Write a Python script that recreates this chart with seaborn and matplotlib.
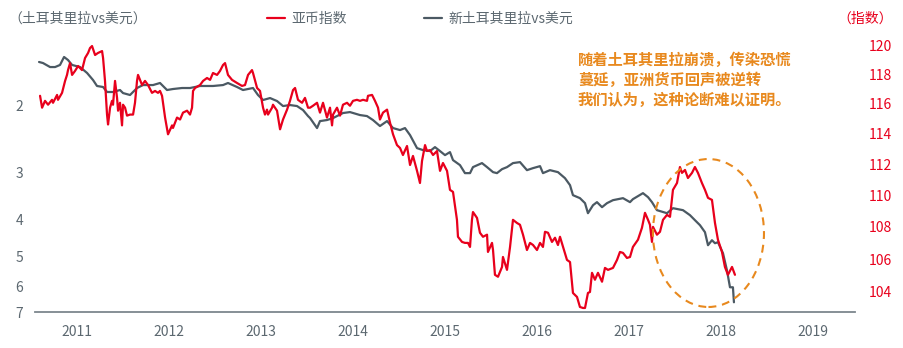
import matplotlib
matplotlib.use("Agg")
import matplotlib.pyplot as plt
import matplotlib.ticker as mticker
from matplotlib.patches import Ellipse
from matplotlib.lines import Line2D
import seaborn as sns
import pandas as pd

# ---------------- data ----------------
lira_t = [2011.087, 2011.130, 2011.207, 2011.261, 2011.315, 2011.359, 2011.402, 2011.446, 2011.533, 2011.609,
          2011.674, 2011.717, 2011.783, 2011.826, 2011.891, 2011.967, 2012.000, 2012.076, 2012.152, 2012.217,
          2012.326, 2012.402, 2012.478, 2012.543, 2012.641, 2012.728, 2012.837, 2012.978, 2013.087, 2013.141,
          2013.239, 2013.304, 2013.413, 2013.467, 2013.522, 2013.598, 2013.674, 2013.739, 2013.815, 2013.891,
          2013.957, 2014.011, 2014.033, 2014.109, 2014.141, 2014.217, 2014.283, 2014.391, 2014.467, 2014.576,
          2014.652, 2014.717, 2014.793, 2014.870, 2014.935, 2015.011, 2015.065, 2015.120, 2015.196, 2015.261,
          2015.337, 2015.391, 2015.446, 2015.500, 2015.554, 2015.587, 2015.663, 2015.717, 2015.772, 2015.804,
          2015.902, 2015.957, 2016.022, 2016.065, 2016.120, 2016.174, 2016.239, 2016.315, 2016.391, 2016.457,
          2016.533, 2016.565, 2016.641, 2016.728, 2016.804, 2016.859, 2016.891, 2016.967, 2017.022, 2017.054,
          2017.109, 2017.152, 2017.207, 2017.261, 2017.326, 2017.435, 2017.511, 2017.543, 2017.652, 2017.707,
          2017.750, 2017.804, 2017.913, 2017.978, 2018.087, 2018.163, 2018.217, 2018.272, 2018.326, 2018.359,
          2018.402, 2018.435, 2018.467, 2018.522, 2018.565, 2018.598, 2018.630, 2018.641]
lira = [1.541, 1.551, 1.589, 1.589, 1.569, 1.495, 1.523, 1.569, 1.589, 1.647,
        1.719, 1.782, 1.793, 1.848, 1.848, 1.826, 1.860, 1.882, 1.804, 1.772,
        1.772, 1.750, 1.826, 1.815, 1.804, 1.804, 1.782, 1.782, 1.772, 1.750,
        1.793, 1.826, 1.804, 1.882, 1.940, 1.917, 1.952, 2.012, 2.000, 2.012,
        2.062, 2.138, 2.164, 2.299, 2.204, 2.190, 2.164, 2.099, 2.087, 2.125,
        2.138, 2.190, 2.271, 2.204, 2.299, 2.327, 2.299, 2.399, 2.596, 2.627,
        2.643, 2.580, 2.643, 2.708, 2.659, 2.791, 2.877, 3.020, 3.020, 2.912,
        2.842, 2.912, 3.002, 3.020, 2.948, 2.912, 2.842, 2.825, 2.966, 2.930,
        2.895, 3.020, 2.966, 3.002, 3.113, 3.248, 3.451, 3.514, 3.622, 3.849,
        3.667, 3.600, 3.711, 3.622, 3.557, 3.514, 3.600, 3.535, 3.409, 3.493,
        3.600, 3.779, 3.849, 3.734, 3.779, 3.895, 4.015, 4.139, 4.318, 4.672,
        4.533, 4.616, 4.588, 4.905, 5.437, 6.027, 6.027, 6.600]

asia_t = [2011.098, 2011.120, 2011.152, 2011.185, 2011.228, 2011.239, 2011.283, 2011.293, 2011.337, 2011.370,
          2011.391, 2011.402, 2011.424, 2011.446, 2011.478, 2011.511, 2011.554, 2011.587, 2011.620, 2011.641,
          2011.663, 2011.696, 2011.728, 2011.772, 2011.783, 2011.804, 2011.826, 2011.837, 2011.859, 2011.880,
          2011.891, 2011.913, 2011.935, 2011.946, 2011.967, 2011.989, 2012.000, 2012.022, 2012.043, 2012.076,
          2012.109, 2012.130, 2012.152, 2012.163, 2012.207, 2012.239, 2012.272, 2012.315, 2012.348, 2012.380,
          2012.402, 2012.424, 2012.457, 2012.489, 2012.533, 2012.543, 2012.587, 2012.620, 2012.652, 2012.696,
          2012.728, 2012.750, 2012.761, 2012.783, 2012.837, 2012.870, 2012.913, 2012.946, 2012.978, 2013.022,
          2013.054, 2013.087, 2013.109, 2013.141, 2013.185, 2013.239, 2013.293, 2013.326, 2013.359, 2013.402,
          2013.413, 2013.457, 2013.489, 2013.522, 2013.543, 2013.565, 2013.576, 2013.620, 2013.630, 2013.674,
          2013.707, 2013.739, 2013.783, 2013.815, 2013.848, 2013.870, 2013.902, 2013.946, 2013.978, 2014.011,
          2014.033, 2014.065, 2014.109, 2014.141, 2014.174, 2014.217, 2014.250, 2014.272, 2014.283, 2014.326,
          2014.359, 2014.391, 2014.435, 2014.467, 2014.500, 2014.543, 2014.576, 2014.609, 2014.652, 2014.663,
          2014.707, 2014.739, 2014.772, 2014.793, 2014.826, 2014.870, 2014.902, 2014.935, 2014.978, 2015.011,
          2015.043, 2015.087, 2015.120, 2015.152, 2015.196, 2015.228, 2015.250, 2015.283, 2015.304, 2015.337,
          2015.370, 2015.413, 2015.446, 2015.478, 2015.522, 2015.554, 2015.587, 2015.630, 2015.641, 2015.685,
          2015.717, 2015.750, 2015.772, 2015.793, 2015.804, 2015.848, 2015.880, 2015.913, 2015.957, 2015.967,
          2016.011, 2016.022, 2016.043, 2016.076, 2016.120, 2016.130, 2016.174, 2016.207, 2016.239, 2016.283,
          2016.315, 2016.348, 2016.391, 2016.424, 2016.457, 2016.500, 2016.533, 2016.565, 2016.587, 2016.620,
          2016.663, 2016.696, 2016.728, 2016.750, 2016.783, 2016.826, 2016.859, 2016.891, 2016.935, 2016.967,
          2017.000, 2017.022, 2017.054, 2017.076, 2017.098, 2017.130, 2017.163, 2017.207, 2017.239, 2017.272,
          2017.326, 2017.370, 2017.402, 2017.435, 2017.478, 2017.511, 2017.543, 2017.598, 2017.641, 2017.674,
          2017.707, 2017.728, 2017.750, 2017.761, 2017.804, 2017.837, 2017.870, 2017.913, 2017.946, 2017.978,
          2018.022, 2018.054, 2018.076, 2018.109, 2018.141, 2018.185, 2018.217, 2018.250, 2018.293, 2018.326,
          2018.359, 2018.402, 2018.435, 2018.467, 2018.511, 2018.543, 2018.576, 2018.620, 2018.652]
asia = [116.52, 115.72, 116.18, 115.92, 116.25, 116.05, 116.58, 116.25, 116.72, 117.53,
        117.94, 118.27, 118.75, 117.94, 118.21, 118.55, 118.27, 119.10, 119.45, 119.79,
        119.93, 119.31, 119.45, 119.58, 119.10, 117.53, 115.26, 114.60, 115.72, 116.18,
        115.92, 117.53, 116.38, 115.52, 116.05, 114.54, 115.92, 115.72, 115.19, 115.26,
        115.26, 116.05, 117.53, 117.94, 117.25, 117.53, 117.25, 116.72, 116.85, 116.72,
        116.85, 116.52, 115.06, 113.95, 114.54, 114.37, 115.06, 114.93, 115.39, 115.52,
        115.26, 115.72, 116.85, 117.05, 117.25, 117.53, 117.73, 117.60, 118.07, 117.94,
        118.21, 118.62, 118.75, 117.94, 117.60, 117.39, 117.19, 117.25, 117.94, 118.27,
        118.07, 117.05, 116.85, 115.72, 115.26, 115.59, 115.26, 115.72, 115.92, 115.52,
        114.28, 114.93, 115.59, 116.18, 116.91, 117.05, 116.25, 116.05, 116.38, 115.72,
        115.72, 115.85, 116.05, 115.39, 116.05, 115.06, 115.72, 114.54, 115.26, 115.72,
        115.19, 115.92, 116.05, 115.85, 116.18, 116.25, 116.18, 116.25, 116.18, 116.52,
        116.58, 116.18, 115.72, 114.93, 115.39, 115.59, 114.73, 113.95, 113.24, 113.05,
        112.59, 113.18, 111.94, 112.53, 111.56, 110.78, 112.20, 113.24, 112.85, 112.91,
        112.59, 112.85, 111.56, 112.07, 111.56, 110.34, 110.21, 108.44, 107.38, 107.06,
        107.00, 107.00, 106.75, 108.44, 108.93, 108.56, 107.63, 107.38, 107.51, 106.44,
        107.00, 106.56, 105.04, 104.92, 105.52, 106.13, 105.34, 106.75, 108.44, 108.24,
        108.13, 107.51, 106.56, 107.00, 106.87, 106.56, 107.00, 106.75, 107.69, 107.63,
        107.06, 107.32, 106.87, 107.38, 106.75, 105.95, 105.82, 103.94, 103.70, 103.10,
        103.04, 103.04, 103.94, 104.00, 105.16, 104.74, 105.16, 104.62, 105.46, 105.34,
        105.46, 105.95, 106.44, 106.38, 106.07, 106.13, 106.75, 107.20, 107.94, 108.88,
        108.44, 108.13, 107.06, 108.00, 107.51, 107.69, 108.44, 108.75, 108.63, 110.34,
        110.78, 111.81, 111.43, 111.62, 111.10, 111.43, 111.81, 111.43, 110.78, 110.34,
        109.83, 109.70, 108.24, 107.20, 106.44, 105.52, 105.04, 105.52, 105.04]

years = [2011, 2012, 2013, 2014, 2015, 2016, 2017, 2018, 2019]
left_ticks = [2, 3, 4, 5, 6, 7]
right_ticks = [104, 106, 108, 110, 112, 114, 116, 118, 120]

series_asia = "亚币指数"
series_lira = "新土耳其里拉vs美元"
left_title = "（土耳其里拉vs美元）"
right_title = "（指数）"
note = "随着土耳其里拉崩溃，传染恐慌\n蔓延，亚洲货币回声被逆转\n我们认为，这种论断难以证明。"

# ---------------- style ----------------
RED = "#E8001C"
GREY = "#4B5963"
TXT = "#5C6870"
ORANGE = "#E8891E"

sns.set_style("white")
plt.rcParams["font.family"] = ["Noto Sans CJK SC", "DejaVu Sans"]
plt.rcParams["axes.unicode_minus"] = False

df_lira = pd.DataFrame({"t": lira_t, "v": lira})
df_asia = pd.DataFrame({"t": asia_t, "v": asia})

fig = plt.figure(figsize=(9.04, 3.48), dpi=100)
ax = fig.add_axes([35 / 904, 1 - 312 / 348, 820 / 904, 272 / 348])
ax2 = ax.twinx()

sns.lineplot(data=df_lira, x="t", y="v", ax=ax, color=GREY, lw=1.6,
             estimator=None, sort=False, legend=False)
sns.lineplot(data=df_asia, x="t", y="v", ax=ax2, color=RED, lw=1.6,
             estimator=None, sort=False, legend=False)

# left axis: inverted log
ax.set_yscale("log")
ax.set_ylim(7.0, 1.349)
ax.yaxis.set_major_locator(mticker.FixedLocator(left_ticks))
ax.yaxis.set_major_formatter(mticker.FixedFormatter([str(v) for v in left_ticks]))
ax.yaxis.set_minor_locator(mticker.NullLocator())

# right axis: log
ax2.set_yscale("log")
ax2.set_ylim(102.80, 120.35)
ax2.yaxis.set_major_locator(mticker.FixedLocator(right_ticks))
ax2.yaxis.set_major_formatter(mticker.FixedFormatter([str(v) for v in right_ticks]))
ax2.yaxis.set_minor_locator(mticker.NullLocator())

ax.set_xlim(2011.043, 2019.957)
ax.set_xticks([y + 0.5 for y in years])
ax.set_xticklabels([str(y) for y in years])

for a in (ax, ax2):
    a.set_xlabel("")
    a.set_ylabel("")
    for s in a.spines.values():
        s.set_visible(False)
    a.grid(False)
ax.spines["bottom"].set_visible(True)
ax.spines["bottom"].set_color("#7D878E")
ax.spines["bottom"].set_linewidth(1.3)

ax.tick_params(axis="x", length=0, pad=9, labelsize=10, labelcolor=TXT)
ax.tick_params(axis="y", length=0, pad=8.5, labelsize=10, labelcolor=TXT)
ax2.tick_params(axis="y", length=0, pad=10, labelsize=10, labelcolor=RED)
ax2.tick_params(axis="x", length=0)

# highlight ellipse
ell = Ellipse((0.8213, 0.2904), 0.1354, 0.544, transform=ax.transAxes,
              fill=False, edgecolor=ORANGE, lw=1.5, linestyle=(0, (3.8, 2.8)),
              clip_on=False, zorder=5)
ax2.add_patch(ell)

# annotation
fig.text(578 / 904, 1 - 52 / 348, note, color=ORANGE, fontsize=11, fontweight="bold",
         ha="left", va="top", linespacing=1.3)

# titles
fig.text(8 / 904, 1 - 19 / 348, left_title, color=TXT, fontsize=10, ha="left", va="center")
fig.text(893 / 904, 1 - 19 / 348, right_title, color=RED, fontsize=10, ha="right", va="center")

# legend
handles = [Line2D([], [], color=RED, lw=1.6), Line2D([], [], color=GREY, lw=1.6)]
fig.legend(handles, [series_asia, series_lira], loc="center", bbox_to_anchor=(420 / 904, 1 - 19 / 348),
           ncol=2, frameon=False, fontsize=10, handlelength=1.3, handletextpad=0.5,
           columnspacing=5.5, labelcolor=TXT)

fig.savefig("out.png", dpi=100)
